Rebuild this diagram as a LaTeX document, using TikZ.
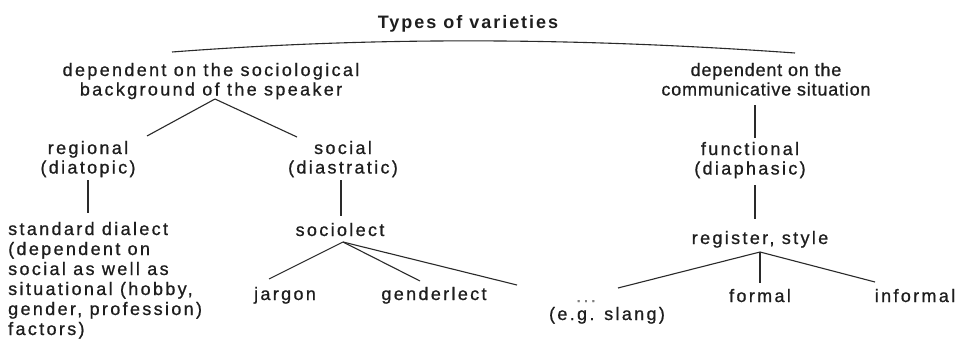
\documentclass[tikz,border=0pt]{standalone}
\usepackage{fontspec}
\setmainfont{Liberation Sans}
\newfontfamily\mainf[LetterSpace=13,FakeBold=0.8]{Liberation Sans}
\newfontfamily\rightf[LetterSpace=4.5,FakeBold=0.8]{Liberation Sans}
\newfontfamily\titlef[LetterSpace=11]{Liberation Sans Bold}
\usetikzlibrary{calc}
\newcommand\ctext[1]{\vtop{\halign{\hfil##\hfil\cr#1\crcr}}}
\newcommand\ltext[1]{\vtop{\halign{##\hfil\cr#1\crcr}}}
\definecolor{ink}{HTML}{1E1E1E}
\definecolor{wirecol}{HTML}{2A2A2A}
\begin{document}
\begin{tikzpicture}[x=1pt,y=-1pt,
  lbl/.style={inner sep=0pt, anchor=base, text=ink, font=\mainf\fontsize{18}{19.5}\selectfont},
  rlbl/.style={lbl, font=\rightf\fontsize{18}{19.5}\selectfont},
  ttl/.style={lbl, font=\titlef\fontsize{18}{19.5}\selectfont},
  conn/.style={draw=wirecol, line width=1.1pt}]
\fill[white] (0,0) rectangle (961,340);
\useasboundingbox (0,0) rectangle (961,340);

\node[ttl] (title) at (468,28) {Types of varieties};
\node[lbl] (L1) at (211,76) {\ctext{dependent on the sociological\cr background of the speaker}};
\node[rlbl] (R1) at (766,76) {\ctext{dependent on the\cr communicative situation}};
\node[lbl] (reg) at (88,154) {\ctext{regional\cr (diatopic)}};
\node[lbl] (soc) at (343,154) {\ctext{social\cr (diastratic)}};
\node[lbl] (fun) at (750,155) {\ctext{functional\cr (diaphasic)}};
\node[lbl, anchor=base west, font=\mainf\fontsize{18}{20}\selectfont] (std) at (8,235) {\ltext{standard dialect\cr (dependent on\cr social as well as\cr situational (hobby,\cr gender, profession)\cr factors)}};
\node[lbl] (socio) at (340,236) {sociolect};
\node[lbl] (regst) at (760,244) {register, style};
\node[lbl] (jar) at (285,300) {jargon};
\node[lbl] (gen) at (434,300) {genderlect};
\node[lbl, text=gray] (dots) at (586,302) {...};
\node[lbl] (slang) at (607,320) {(e.g. slang)};
\node[lbl] (form) at (760,302) {formal};
\node[lbl] (inf) at (915,302) {informal};

\coordinate (bl) at (172,52);
\coordinate (br) at (795,53);
\draw[conn] (bl) .. controls (370,37) and (570,37) .. (br);

\draw[conn] ($(L1.base)+(4,23)$) -- ($(reg.base)+(59,-18)$);
\draw[conn] ($(L1.base)+(4,23)$) -- ($(soc.base)+(-46,-17)$);
\draw[conn] ($(reg.base)+(0,26)$) -- ($(std.base west)+(80,-22)$);
\draw[conn] ($(soc.base)+(-2,26)$) -- ($(socio.base)+(1,-20)$);
\draw[conn] ($(socio.base)+(3,6)$) -- ($(jar.base)+(-16,-21)$);
\draw[conn] ($(socio.base)+(3,6)$) -- ($(gen.base)+(-14,-19)$);
\draw[conn] ($(socio.base)+(3,6)$) -- ($(dots.base)+(-69,-17)$);
\draw[conn] ($(R1.base)+(-11,29)$) -- ($(fun.base)+(5,-17)$);
\draw[conn] ($(fun.base)+(5,30)$) -- ($(regst.base)+(-5,-25)$);
\draw[conn] ($(regst.base)+(0,8)$) -- ($(dots.base)+(32,-14)$);
\draw[conn] ($(regst.base)+(0,8)$) -- ($(form.base)+(0,-19)$);
\draw[conn] ($(regst.base)+(0,8)$) -- ($(inf.base)+(-40,-20)$);
\end{tikzpicture}
\end{document}
